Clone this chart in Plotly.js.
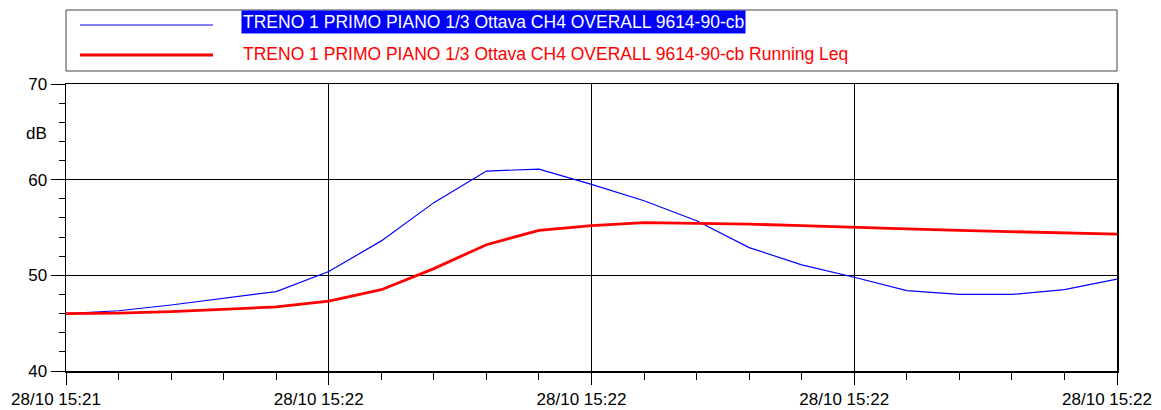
<!DOCTYPE html>
<html>
<head>
<meta charset="utf-8">
<script src="https://cdn.plot.ly/plotly-3.0.1.min.js"></script>
<style>html,body{margin:0;padding:0;background:#fff;}#chart{width:1161px;height:410px;}</style>
</head>
<body>
<div id="chart"></div>
<script>
// Sample index (one sample every minor tick)
const sampleIndex = [0,1,2,3,4,5,6,7,8,9,10,11,12,13,14,15,16,17,18,19,20];
// Major tick positions and their labels
const tickPositions = [0,5,10,15,20];
const tickLabels = ["28/10 15:21","28/10 15:22","28/10 15:22","28/10 15:22","28/10 15:22"];
// Series values (dB)
const overall = [46.0,46.3,46.9,47.6,48.3,50.4,53.6,57.6,60.9,61.1,59.5,57.8,55.7,52.9,51.1,49.8,48.4,48.0,48.0,48.5,49.6];
const runningLeq = [46.0,46.05,46.2,46.45,46.7,47.3,48.5,50.7,53.2,54.7,55.2,55.5,55.45,55.35,55.2,55.0,54.85,54.7,54.55,54.4,54.3];
const seriesNames = ["TRENO 1 PRIMO PIANO 1/3 Ottava CH4 OVERALL 9614-90-cb",
                     "TRENO 1 PRIMO PIANO 1/3 Ottava CH4 OVERALL 9614-90-cb Running Leq"];

const FONT = "Liberation Sans, Arial, sans-serif";
const W = 1161, H = 410, L = 66, R = 44, T = 84, B = 39;
const pw = W - L - R, ph = H - T - B;
const px = x => (x - L) / pw;
const py = y => (H - B - y) / ph;

const traces = [
  {x: sampleIndex, y: overall, type: 'scatter', mode: 'lines', name: seriesNames[0],
   line: {color: '#0000ff', width: 1.2}, hoverinfo: 'none'},
  {x: sampleIndex, y: runningLeq, type: 'scatter', mode: 'lines', name: seriesNames[1],
   line: {color: '#ff0000', width: 2.8}, hoverinfo: 'none'}
];

const layout = {
  width: W, height: H,
  margin: {l: L, r: R, t: T, b: B, pad: 0},
  paper_bgcolor: '#fff', plot_bgcolor: '#fff',
  showlegend: false,
  font: {family: FONT, size: 17, color: '#000'},
  xaxis: {
    range: [0, 20], tickmode: 'array', tickvals: tickPositions, ticktext: tickLabels,
    showgrid: true, gridcolor: '#000', gridwidth: 1, zeroline: false,
    showline: true, linecolor: '#000', linewidth: 1.5, mirror: true,
    ticks: 'outside', ticklen: 12, tickcolor: '#000', tickwidth: 1,
    ticklabelshift: -10, ticklabeloverflow: 'allow',
    minor: {tickmode: 'linear', tick0: 0, dtick: 1, ticks: 'outside', ticklen: 7, tickcolor: '#000', showgrid: false},
    tickfont: {family: FONT, size: 17, color: '#000'}, fixedrange: true
  },
  yaxis: {
    range: [40, 70], tickmode: 'linear', tick0: 40, dtick: 10,
    showgrid: true, gridcolor: '#000', gridwidth: 1, zeroline: false,
    showline: true, linecolor: '#000', linewidth: 1.5, mirror: true,
    ticks: 'outside', ticklen: 14, tickcolor: '#000', tickwidth: 1,
    minor: {tickmode: 'linear', tick0: 40, dtick: 2, ticks: 'outside', ticklen: 6, tickcolor: '#000', showgrid: false},
    tickfont: {family: FONT, size: 17, color: '#000'}, fixedrange: true
  },
  shapes: [
    {type: 'rect', xref: 'paper', yref: 'paper', x0: px(66), x1: px(1117), y0: py(71), y1: py(10),
     line: {color: '#444', width: 1}, fillcolor: 'rgba(0,0,0,0)'},
    {type: 'line', xref: 'paper', yref: 'paper', x0: px(80), x1: px(213), y0: py(25), y1: py(25),
     line: {color: '#0000ff', width: 1.2}},
    {type: 'line', xref: 'paper', yref: 'paper', x0: px(80), x1: px(213), y0: py(55), y1: py(55),
     line: {color: '#ff0000', width: 2.8}}
  ],
  annotations: [
    {xref: 'paper', yref: 'paper', x: px(241), y: py(22), xanchor: 'left', yanchor: 'middle',
     text: seriesNames[0], showarrow: false, bgcolor: '#0000ff', borderpad: 1,
     font: {family: FONT, size: 17.5, color: '#fff'}},
    {xref: 'paper', yref: 'paper', x: px(241), y: py(54), xanchor: 'left', yanchor: 'middle',
     text: seriesNames[1], showarrow: false, borderpad: 1,
     font: {family: FONT, size: 17.5, color: '#ff0000'}},
    {xref: 'paper', yref: 'paper', x: px(36), y: py(133), xanchor: 'center', yanchor: 'middle',
     text: 'dB', showarrow: false, font: {family: FONT, size: 17, color: '#000'}}
  ]
};

Plotly.newPlot('chart', traces, layout, {staticPlot: true, displayModeBar: false});
</script>
</body>
</html>
